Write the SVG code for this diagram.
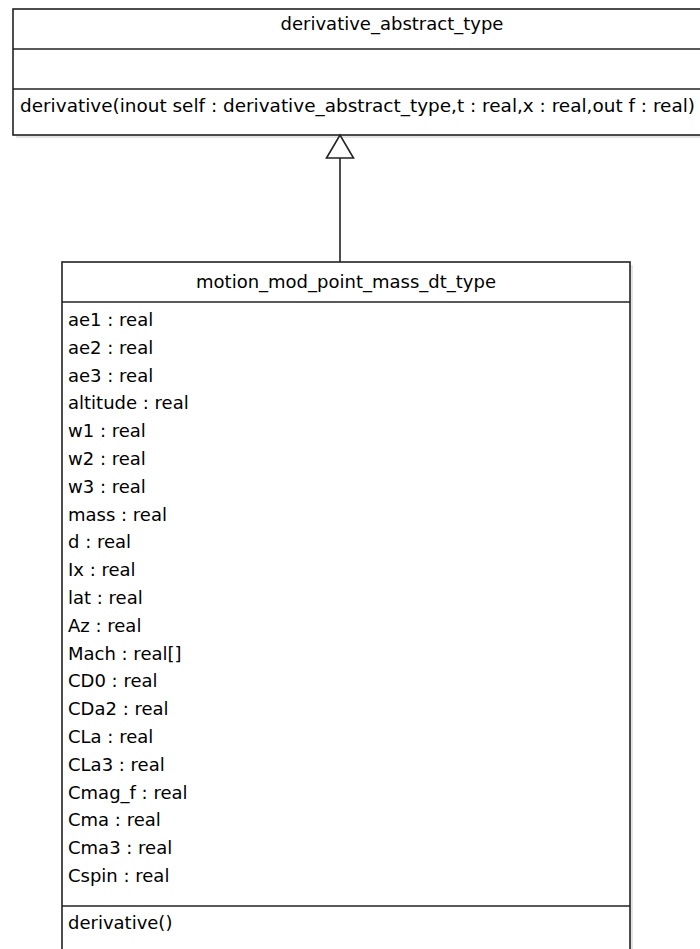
<svg xmlns="http://www.w3.org/2000/svg" width="700" height="949" viewBox="0 0 700 949">
<style>
  .box { fill: #ffffff; stroke: #222222; stroke-width: 1.6; }
  .shadow { fill: #e4e4e4; stroke: none; }
  .sep { stroke: #222222; stroke-width: 1.6; fill: none; }
  .t { font-family: "DejaVu Sans", Verdana, sans-serif; font-size: 18px; fill: #000000; }
  .c { text-anchor: middle; }
  .edge { stroke: #222222; stroke-width: 1.6; fill: none; }
</style>
<defs>
  <marker id="gen" viewBox="-1 -1 25 29" refX="23" refY="13.5" markerWidth="25" markerHeight="29" markerUnits="userSpaceOnUse" orient="auto" overflow="visible">
    <path d="M0,0 L23,13.5 L0,27 Z" fill="#ffffff" stroke="#222222" stroke-width="1.6"/>
  </marker>
</defs>
<rect width="700" height="949" fill="#ffffff"/>

<g id="derivative_abstract_type">
  <rect class="shadow" x="16" y="12" width="758" height="126"/>
  <rect class="box" x="13" y="9" width="758" height="126"/>
  <line class="sep" x1="13" y1="49" x2="771" y2="49"/>
  <line class="sep" x1="13" y1="89" x2="771" y2="89"/>
  <text class="t c" x="392" y="30">derivative_abstract_type</text>
  <text class="t" x="20" y="112" textLength="675" lengthAdjust="spacingAndGlyphs">derivative(inout self : derivative_abstract_type,t : real,x : real,out f : real)</text>
</g>

<g id="connectors">
  <line class="edge" x1="340" y1="262" x2="340" y2="135" marker-end="url(#gen)"/>
</g>

<g id="motion_mod_point_mass_dt_type">
  <rect class="shadow" x="65" y="265" width="568" height="700"/>
  <rect class="box" x="62" y="262" width="568" height="700"/>
  <line class="sep" x1="62" y1="302" x2="630" y2="302"/>
  <line class="sep" x1="62" y1="906" x2="630" y2="906"/>
  <text class="t c" x="346" y="288">motion_mod_point_mass_dt_type</text>
  <text class="t" x="68" y="326">ae1 : real</text>
  <text class="t" x="68" y="353.8">ae2 : real</text>
  <text class="t" x="68" y="381.6">ae3 : real</text>
  <text class="t" x="68" y="409.4">altitude : real</text>
  <text class="t" x="68" y="437.2">w1 : real</text>
  <text class="t" x="68" y="465">w2 : real</text>
  <text class="t" x="68" y="492.8">w3 : real</text>
  <text class="t" x="68" y="520.6">mass : real</text>
  <text class="t" x="68" y="548.4">d : real</text>
  <text class="t" x="68" y="576.2">Ix : real</text>
  <text class="t" x="68" y="604">lat : real</text>
  <text class="t" x="68" y="631.8">Az : real</text>
  <text class="t" x="68" y="659.6">Mach : real[]</text>
  <text class="t" x="68" y="687.4">CD0 : real</text>
  <text class="t" x="68" y="715.2">CDa2 : real</text>
  <text class="t" x="68" y="743">CLa : real</text>
  <text class="t" x="68" y="770.8">CLa3 : real</text>
  <text class="t" x="68" y="798.6">Cmag_f : real</text>
  <text class="t" x="68" y="826.4">Cma : real</text>
  <text class="t" x="68" y="854.2">Cma3 : real</text>
  <text class="t" x="68" y="882">Cspin : real</text>
  <text class="t" x="68" y="929">derivative()</text>
</g>
</svg>
